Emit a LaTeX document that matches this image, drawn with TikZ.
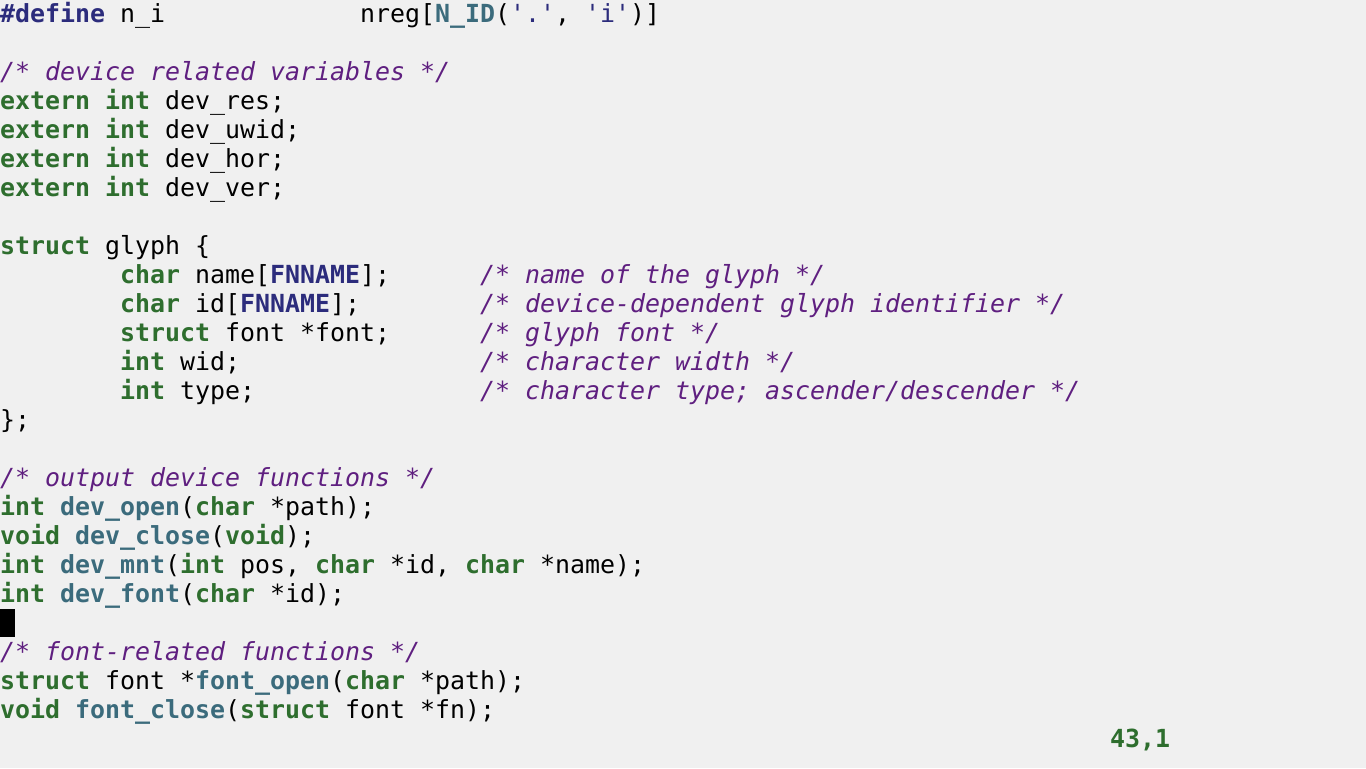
\documentclass[tikz,border=0pt]{standalone}
\usepackage{fontspec}
\setmonofont{DejaVu Sans Mono}[WordSpace={1,0,0}]
\usepackage{tikz}
\definecolor{vimbg}{RGB}{240,240,240}
\definecolor{vimkw}{RGB}{46,110,46}
\definecolor{vimfn}{RGB}{59,107,124}
\definecolor{vimpp}{RGB}{44,44,124}
\definecolor{vimcm}{RGB}{95,31,128}
\newcommand\kw[1]{\textcolor{vimkw}{\bfseries #1}}
\newcommand\fn[1]{\textcolor{vimfn}{\bfseries #1}}
\newcommand\pp[1]{\textcolor{vimpp}{\bfseries #1}}
\newcommand\lit[1]{\textcolor{vimpp}{#1}}
\newcommand\cm[1]{\textcolor{vimcm}{\itshape #1}}
\tikzset{
  code/.style={anchor=base west, inner sep=0pt, outer sep=0pt,
    font=\ttfamily\fontsize{18.69pt}{21.75pt}\selectfont},
  cursor/.style={fill=black}
}

\begin{document}
\begin{tikzpicture}[x=0.75pt,y=-0.75pt]
\fill[vimbg] (0,0) rectangle (1366,768);
\useasboundingbox (0,0) rectangle (1366,768);
% line n has its baseline at 22+29n, column c starts at 15c
\node[code] (l0)  at (0,22)  {\pp{\#define} n\_i};
\node[code] (l0b) at (360,22) {nreg[\fn{N\_ID}(\lit{'.'}, \lit{'i'})]};
\node[code] (l2)  at (0,80)  {\cm{/* device related variables */}};
\foreach \n/\var in {3/res, 4/uwid, 5/hor, 6/ver} {
  \node[code] (l\n) at (0,22+29*\n) {\kw{extern} \kw{int} dev\_\var;};
}
\node[code] (l8)  at (0,254) {\kw{struct} glyph \{};
\node[code] (l9)  at (120,283) {\kw{char} name[\pp{FNNAME}];};
\node[code] (l10) at (120,312) {\kw{char} id[\pp{FNNAME}];};
\node[code] (l11) at (120,341) {\kw{struct} font *font;};
\node[code] (l12) at (120,370) {\kw{int} wid;};
\node[code] (l13) at (120,399) {\kw{int} type;};
\foreach \n/\txt in {%
  9/{name of the glyph},
  10/{device-dependent glyph identifier},
  11/{glyph font},
  12/{character width},
  13/{character type; ascender/descender}%
} {
  \node[code] (c\n) at (480,22+29*\n) {\cm{/* \txt{} */}};
}
\node[code] (l14) at (0,428) {\};};
\node[code] (l16) at (0,486) {\cm{/* output device functions */}};
\node[code] (l17) at (0,515) {\kw{int} \fn{dev\_open}(\kw{char} *path);};
\node[code] (l18) at (0,544) {\kw{void} \fn{dev\_close}(\kw{void});};
\node[code] (l19) at (0,573) {\kw{int} \fn{dev\_mnt}(\kw{int} pos, \kw{char} *id, \kw{char} *name);};
\node[code] (l20) at (0,602) {\kw{int} \fn{dev\_font}(\kw{char} *id);};
\fill[cursor] (0,609) rectangle (15,637);
\node[code] (l22) at (0,660) {\cm{/* font-related functions */}};
\node[code] (l23) at (0,689) {\kw{struct} font *\fn{font\_open}(\kw{char} *path);};
\node[code] (l24) at (0,718) {\kw{void} \fn{font\_close}(\kw{struct} font *fn);};
\node[code] (ruler) at (1110,747) {\kw{43,1}};
\end{tikzpicture}
\end{document}
